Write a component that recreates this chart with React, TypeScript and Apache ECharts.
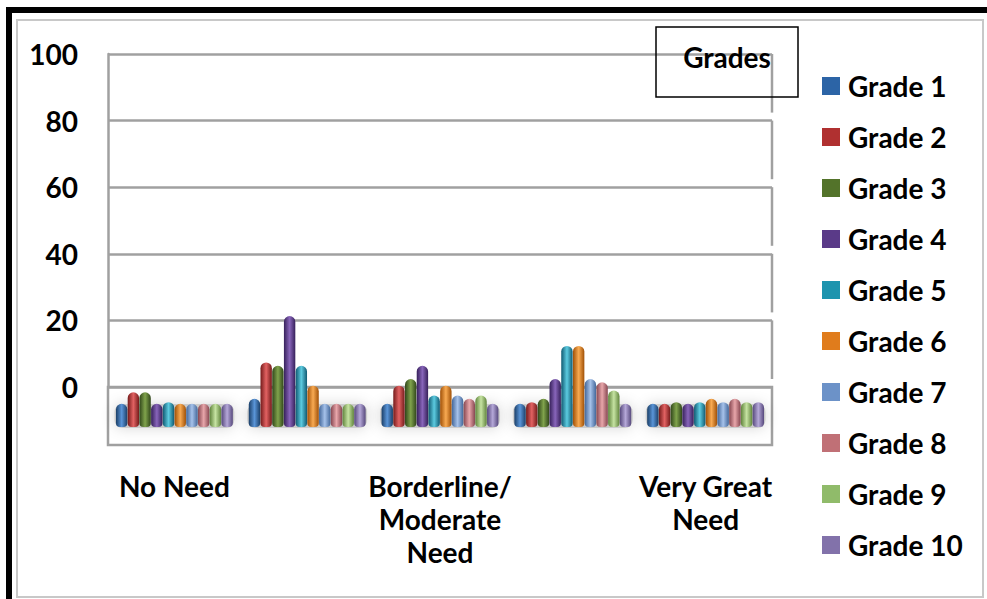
import React, { useEffect, useRef } from "react";
import * as echarts from "echarts";

const categories = [
  "No Need",
  "Some Need",
  "Borderline/\nModerate\nNeed",
  "Great Need",
  "Very Great\nNeed",
];
const gradeNames = [
  "Grade 1", "Grade 2", "Grade 3", "Grade 4", "Grade 5",
  "Grade 6", "Grade 7", "Grade 8", "Grade 9", "Grade 10",
];
const grade1 = [7, 8.5, 7, 7, 7];
const grade2 = [10.5, 19.5, 12.5, 7.5, 7];
const grade3 = [10.5, 18.5, 14.5, 8.5, 7.5];
const grade4 = [7, 33.5, 18.5, 14.5, 7];
const grade5 = [7.5, 18.5, 9.5, 24.5, 7.5];
const grade6 = [7, 12.5, 12.5, 24.5, 8.5];
const grade7 = [7, 7, 9.5, 14.5, 7.5];
const grade8 = [7, 7, 8.5, 13.5, 8.5];
const grade9 = [7, 7, 9.5, 11, 7.5];
const grade10 = [7, 7, 7, 7, 7.5];
const gradeValues = [grade1, grade2, grade3, grade4, grade5, grade6, grade7, grade8, grade9, grade10];
const wallTicks = [100, 80, 60, 40, 20];

// [dark, mid, light]
const palette = [
  ["#1b3f68", "#2c64a6", "#5a95d8"],
  ["#741a1a", "#b03030", "#e26262"],
  ["#30461a", "#53732a", "#80a34c"],
  ["#36205a", "#5a3a88", "#8865ba"],
  ["#105a72", "#1d94ae", "#5ccbe0"],
  ["#a05006", "#e07c1c", "#f8aa52"],
  ["#43679a", "#6c92c8", "#a6c2ea"],
  ["#864650", "#c07076", "#e8a6aa"],
  ["#60843c", "#90bb6a", "#c6e3a2"],
  ["#56487c", "#8272aa", "#b5a8d8"],
];

const FONT = "Lato, 'Open Sans', sans-serif";
const GRID_LEFT = 108;
const GRID_RIGHT_X = 772;

export default function App() {
  const ref = useRef<HTMLDivElement>(null);
  useEffect(() => {
    if (!ref.current) return;
    const chart = echarts.init(ref.current, undefined, { renderer: "svg" });
    const labelStyle = { fontFamily: FONT, fontWeight: "bold" as const, fontSize: 28, color: "#000" };
    chart.setOption({
      animation: false,
      backgroundColor: "#fff",
      legend: {
        orient: "vertical",
        left: 822,
        top: 72,
        padding: 0,
        icon: "rect",
        itemWidth: 18,
        itemHeight: 18,
        itemGap: 23,
        textStyle: { ...labelStyle, padding: [0, 0, 0, 3] },
        data: gradeNames.map((n, i) => ({ name: n, itemStyle: { color: palette[i][1] } })),
      },
      grid: [
        { left: GRID_LEFT, right: 987 - GRID_RIGHT_X, top: 54, bottom: 599 - 387 },
        { left: GRID_LEFT, right: 987 - GRID_RIGHT_X, top: 96, bottom: 599 - 427 },
      ],
      xAxis: [
        { type: "category", gridIndex: 0, data: categories, show: false },
        {
          type: "category",
          gridIndex: 1,
          data: categories,
          axisLine: { show: false },
          axisTick: { show: false },
          axisLabel: { ...labelStyle, interval: 1, margin: 42, lineHeight: 33, align: "center" },
        },
      ],
      yAxis: [
        {
          type: "value",
          gridIndex: 0,
          min: 0,
          max: 100,
          interval: 20,
          axisLine: { show: true, lineStyle: { color: "#a0a0a0", width: 2.5 } },
          axisTick: { show: false },
          axisLabel: { ...labelStyle, margin: 30 },
          splitLine: { show: true, lineStyle: { color: "#a0a0a0", width: 2.5 } },
        },
        { type: "value", gridIndex: 1, min: 0, max: 100, show: false, splitLine: { show: false } },
      ],
      series: gradeValues.map((vals, i) => ({
        type: "bar",
        name: gradeNames[i],
        xAxisIndex: 1,
        yAxisIndex: 1,
        data: vals,
        barGap: "3%",
        barCategoryGap: "12%",
        z: 3,
        itemStyle: {
          borderRadius: [6, 6, 4, 4],
          color: new echarts.graphic.LinearGradient(0, 0, 1, 0, [
            { offset: 0, color: palette[i][0] },
            { offset: 0.5, color: palette[i][2] },
            { offset: 1, color: palette[i][0] },
          ]),
        },
      })),
    });

    const py = (v: number) => chart.convertToPixel({ yAxisIndex: 0 }, v) as number;
    const y0 = py(0);
    const step = py(0) - py(20);
    const floorBottom = y0 + 58;
    const graphics: any[] = [];
    // outer frame
    graphics.push({ type: "line", shape: { x1: 9, y1: 7, x2: 9, y2: 599 }, style: { stroke: "#000", lineWidth: 6 }, z: 1 });
    graphics.push({ type: "line", shape: { x1: 6, y1: 10, x2: 987, y2: 10 }, style: { stroke: "#000", lineWidth: 6 }, z: 1 });
    graphics.push({ type: "rect", shape: { x: 17, y: 20, width: 966, height: 577 }, style: { fill: "none", stroke: "#c8c8c8", lineWidth: 2 }, z: 1 });
    // right wall segments
    wallTicks.forEach((v) => {
      const y = py(v);
      graphics.push({
        type: "line",
        shape: { x1: GRID_RIGHT_X, y1: y, x2: GRID_RIGHT_X, y2: y + step - 8 },
        style: { stroke: "#a0a0a0", lineWidth: 2.5 },
        z: 1,
      });
    });
    // floor
    graphics.push({
      type: "rect",
      shape: { x: GRID_LEFT, y: y0, width: GRID_RIGHT_X - GRID_LEFT, height: floorBottom - y0 },
      style: { fill: "none", stroke: "#a0a0a0", lineWidth: 2.5 },
      z: 1,
    });
    // floor shadows under groups
    categories.forEach((c, i) => {
      const cx = chart.convertToPixel({ xAxisIndex: 1 }, i) as number;
      graphics.push({
        type: "rect",
        shape: { x: cx - 60, y: 404, width: 120, height: 24, r: 8 },
        style: { fill: "rgba(150,150,150,0.4)", shadowBlur: 14, shadowColor: "rgba(0,0,0,0.4)" },
        z: 1,
      });
    });
    // Grades box
    graphics.push({
      type: "rect",
      shape: { x: 656, y: 27, width: 142, height: 70 },
      style: { fill: "none", stroke: "#000", lineWidth: 1.5 },
      z: 5,
    });
    graphics.push({
      type: "text",
      x: 727,
      y: 57,
      style: { text: "Grades", font: `bold 28px ${FONT}`, fill: "#000", textAlign: "center", textVerticalAlign: "middle" },
      z: 6,
    });
    chart.setOption({ graphic: graphics });

    return () => chart.dispose();
  }, []);
  return (
    <div
      ref={ref}
      style={{ position: "absolute", left: 0, top: 0, width: 987, height: 599 }}
    />
  );
}
